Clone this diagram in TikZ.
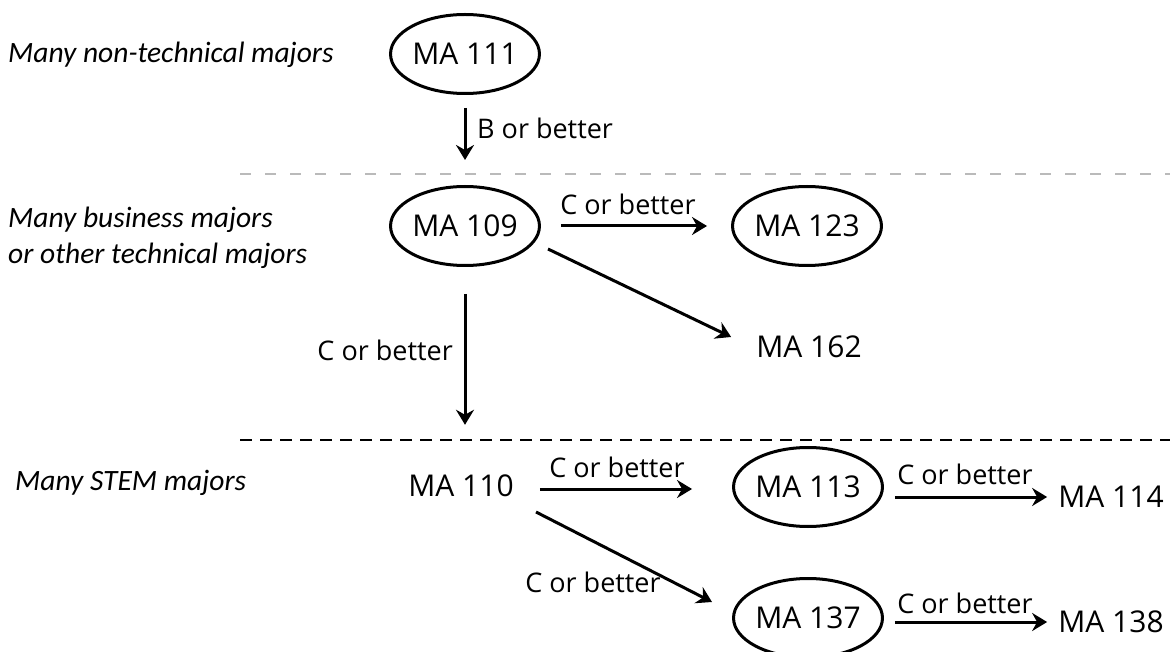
\documentclass[tikz,border=0pt]{standalone}
\usepackage{fontspec}
\setmainfont{Open Sans}
\newfontfamily\calib{Carlito}
\usetikzlibrary{shapes.geometric,arrows.meta,calc}
\tikzset{
  course/.style={ellipse,draw,line width=3pt,minimum width=140pt,minimum height=79pt,inner sep=0pt,font=\fontsize{30}{36}\selectfont},
  plain/.style={inner sep=0pt,font=\fontsize{30}{36}\selectfont},
  grp/.style={inner sep=0pt,anchor=base west,font=\calib\itshape\fontsize{29.5}{36}\selectfont},
  lbl/.style={inner sep=0pt,font=\fontsize{27}{30}\selectfont},
  arr/.style={line width=3pt,-{Stealth[length=15pt,width=18pt,inset=5pt]}},
}
\begin{document}
\begin{tikzpicture}[x=1pt,y=-1pt]
\useasboundingbox (0,0) rectangle (1170,652);
% separators
\draw[line width=2.8pt,color=black!27,dash pattern=on 11pt off 14pt] (240,174) -- (1170,174);
\draw[line width=1.5pt,dash pattern=on 12pt off 8pt] (240,440) -- (1170,440);
% group labels
\node[grp] (g1) at (8,63) {Many non-technical majors};
\node[grp] (g2) at (8,228) {Many business majors};
\node[grp] (g3) at (8,264) {or other technical majors};
\node[grp] (g4) at (15,490) {Many STEM majors};
% courses
\node[course] (m111) at (465,54) {MA 111};
\node[course] (m109) at (465,226) {MA 109};
\node[course] (m123) at (807,226) {MA 123};
\node[plain] (m162) at (809,347) {MA 162};
\node[plain] (m110) at (461,486) {MA 110};
\node[course] (m113) at (808,487) {MA 113};
\node[plain] (m114) at (1111,497) {MA 114};
\node[course] (m137) at (808,618) {MA 137};
\node[plain] (m138) at (1111,622) {MA 138};
% connectors
\draw[arr,shorten <=13pt,shorten >=25pt] (m111.south) -- (m109.north);
\draw[arr,shorten <=20pt,shorten >=24pt] (m109.east) -- (m123.west);
\draw[arr] ($(m109)+(83,23)$) -- ($(m162.west)+(-25,-10)$);
\draw[arr,shorten <=27pt,shorten >=50pt] (m109.south) -- (m109.south |- m110.north);
\draw[arr,shorten <=26pt,shorten >=40pt] ($(m110.east)+(0,3)$) -- ($(m113.west)+(0,2)$);
\draw[arr] ($(m110)+(75,26)$) -- ($(m137.west)+(-20,-16)$);
\draw[arr,shorten <=11pt,shorten >=11pt] (m113.east |- m114.west) -- (m114.west);
\draw[arr,shorten <=11pt,shorten >=11pt] (m137.east |- m138.west) -- (m138.west);
% labels
\node[lbl,anchor=base west] (l1) at (477,139) {B or better};
\node[lbl,anchor=base] (l2) at (628,215) {C or better};
\node[lbl,anchor=base east] (l3) at (453,360) {C or better};
\node[lbl,anchor=base] (l4) at (617,477) {C or better};
\node[lbl,anchor=base] (l5) at (593,592) {C or better};
\node[lbl,anchor=base] (l6) at (965,484) {C or better};
\node[lbl,anchor=base] (l7) at (965,613) {C or better};
\end{tikzpicture}
\end{document}
